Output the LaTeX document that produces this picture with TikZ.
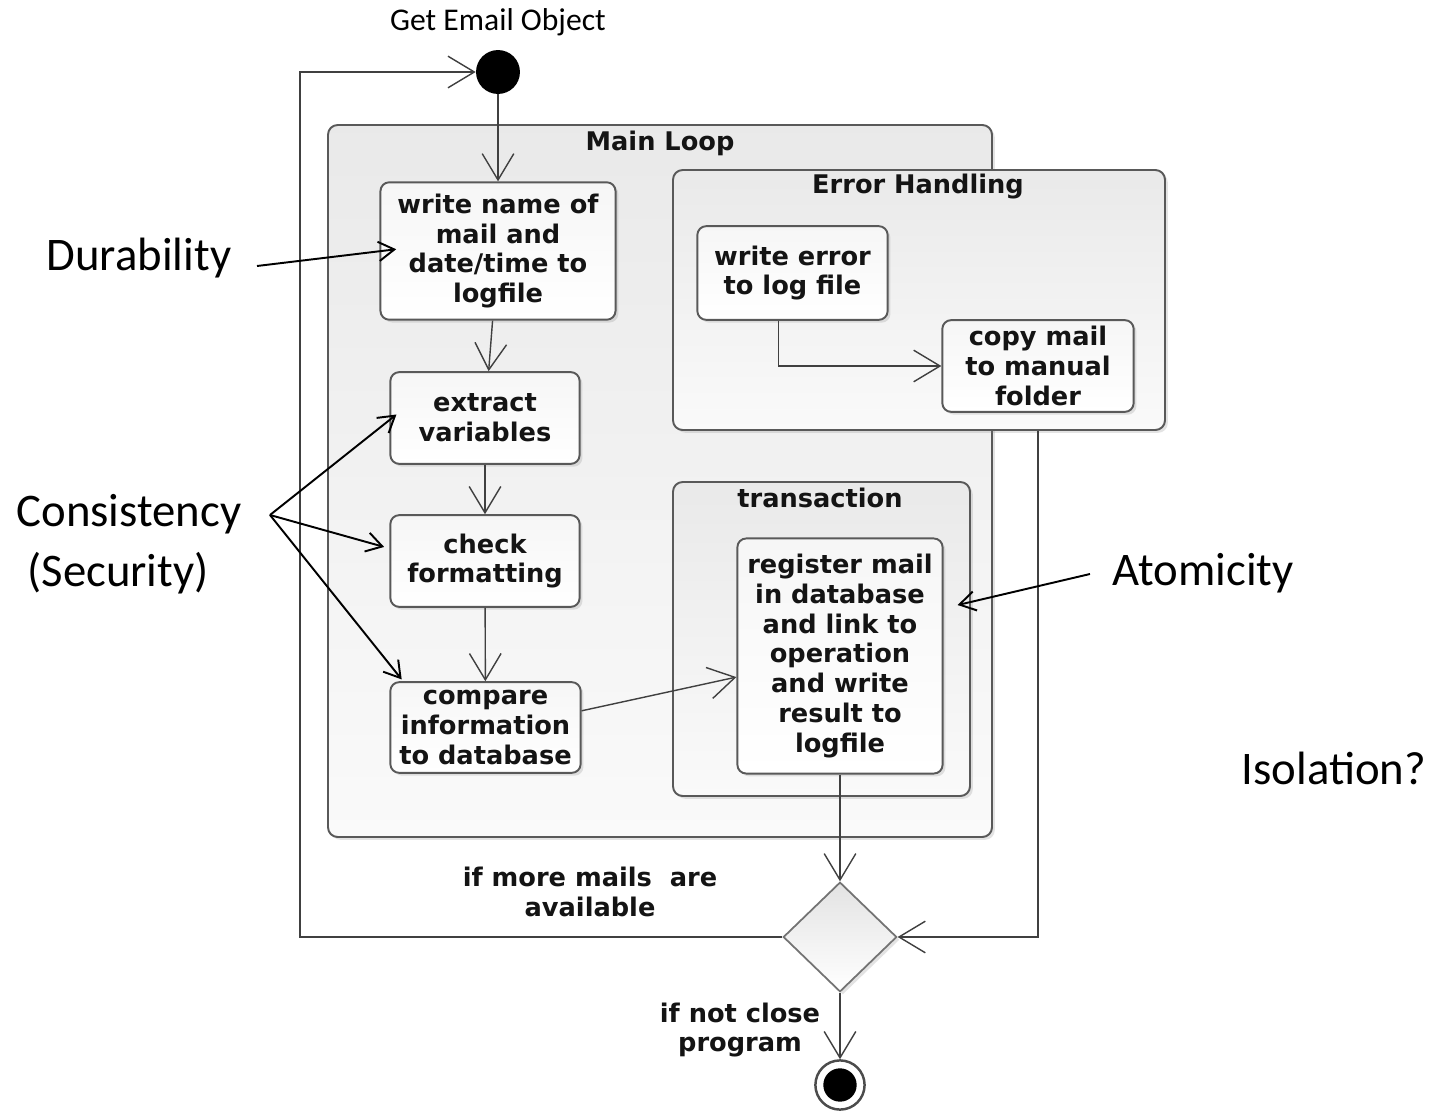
\documentclass[tikz,border=0pt]{standalone}
\usepackage{fontspec}
\setmainfont{DejaVu Sans}
\newfontfamily\annfont{Carlito}
\usetikzlibrary{arrows.meta,shapes.geometric,shadows,fit}
\tikzset{
  uml/.style={font=\bfseries\fontsize{14.6}{17}\selectfont, text=black!92},
  myshadow/.style={drop shadow={opacity=0.22, shadow xshift=1.6pt, shadow yshift=-1.6pt}},
  container/.style={draw=black!65, line width=1.1pt, rounded corners=5.5pt,
    top color=gray!17, bottom color=gray!4, myshadow, inner sep=0pt},
  act/.style={draw=black!65, line width=1.1pt, rounded corners=5pt,
    top color=gray!7, bottom color=white, myshadow, inner sep=0pt, align=center, uml},
  ctitle/.style={uml, inner sep=0pt},
  guard/.style={uml, align=center, inner sep=0pt},
  flow/.style={draw=black!75, line width=0.8pt,
    -{Straight Barb[length=15pt,width=18pt,line width=0.8pt]}},
  ann/.style={draw=black, line width=1.1pt,
    -{Straight Barb[length=9pt,width=11pt,line width=1.1pt]}},
  annlabel/.style={font=\annfont\fontsize{26.6}{32.4}\selectfont, inner sep=0pt},
}
\begin{document}
\begin{tikzpicture}[x=0.02cm, y=-0.02cm]
\fill[white] (0,0) rectangle (1438,1112);
\useasboundingbox (0,0) rectangle (1438,1112);

% containers
\node[container, fit={(328,125) (992,837)}] (main) {};
\node[ctitle] (maint) at (660,143) {Main Loop};
\node[container, fit={(673,170) (1165,430)}] (eh) {};
\node[ctitle] (eht) at (918,187) {Error Handling};
\node[container, fit={(673,482) (970,796)}] (tr) {};
\node[ctitle] (trt) at (820,498) {transaction};

% activities
\node[act, minimum width=133.8pt, minimum height=78.2pt] (w) at (498,251) {write name of\\mail and\\date/time to\\logfile};
\node[act, minimum width=107.7pt, minimum height=52.2pt] (ex) at (485,418) {extract\\variables};
\node[act, minimum width=107.7pt, minimum height=52.2pt] (chk) at (485,561) {check\\formatting};
\node[act, minimum width=108.3pt, minimum height=51.6pt] (cmp) at (485.5,727.5) {compare\\information\\to database};
\node[act, minimum width=108.3pt, minimum height=53.3pt] (we) at (792.5,273) {write error\\to log file};
\node[act, minimum width=108.9pt, minimum height=52.2pt] (cp) at (1038,366) {copy mail\\to manual\\folder};
\node[act, minimum width=116.8pt, minimum height=133.8pt] (reg) at (840,656) {register mail\\in database\\and link to\\operation\\and write\\result to\\logfile};

% control nodes
\node[circle, fill=black, minimum size=25pt, inner sep=0pt] (init) at (498,72) {};
\node[diamond, draw=black!55, line width=1pt, top color=gray!22, bottom color=white,
      minimum width=64.6pt, minimum height=62.4pt, inner sep=0pt, myshadow] (dec) at (840,937) {};
\node[circle, draw=black!70, line width=1.4pt, fill=white, minimum size=28pt, inner sep=0pt] (fin) at (840,1085) {};
\node[circle, fill=black, minimum size=19pt, inner sep=0pt] (finc) at (fin) {};

% labels
\node[annlabel, font=\annfont\fontsize{18}{22}\selectfont] (geo) at (498,22) {Get Email Object};
\node[guard] (g1) at (590,892) {if more mails\ \ are\\available};
\node[guard] (g2) at (740,1030) {if not close\\program};

% flows
\draw[flow] (init) -- (w);
\draw[flow] (w) -- (ex);
\draw[flow] (ex) -- (chk);
\draw[flow] (chk) -- (cmp);
\draw[flow] ([yshift=9.5pt]cmp.east) -- ([yshift=-12pt]reg.west);
\draw[flow] ([xshift=-8pt]we.south) |- (cp.west);
\draw[flow] (eh.south -| cp.south) |- (dec.east);
\draw[flow] (reg.south) -- (dec.north);
\coordinate (lpb) at (300,937);
\coordinate (lpt) at (300,72);
\draw[flow] (dec.west) -- (lpb) -- (lpt) -- (init.west);
\draw[flow] (dec.south) -- (fin.north);

% annotations
\node[annlabel] (dur) at (139,258) {Durability};
\node[annlabel] (con) at (129,514) {Consistency};
\node[annlabel] (sec) at (118,573) {(Security)};
\node[annlabel] (ato) at (1203,573) {Atomicity};
\node[annlabel] (iso) at (1334,768) {Isolation?};
\coordinate (durS) at (257,266);
\coordinate (conS) at (270,515);
\coordinate (atoS) at (1090,574);
\draw[ann] (durS) -- ([xshift=9.5pt,yshift=1pt]w.west);
\draw[ann] (conS) -- ([xshift=4pt,yshift=2pt]ex.west);
\draw[ann] (conS) -- ([xshift=-3pt,yshift=8pt]chk.west);
\draw[ann] (conS) -- ([xshift=7pt,yshift=1pt]cmp.north west);
\draw[ann] (atoS) -- ([xshift=8pt,yshift=29pt]reg.east);
\end{tikzpicture}
\end{document}
